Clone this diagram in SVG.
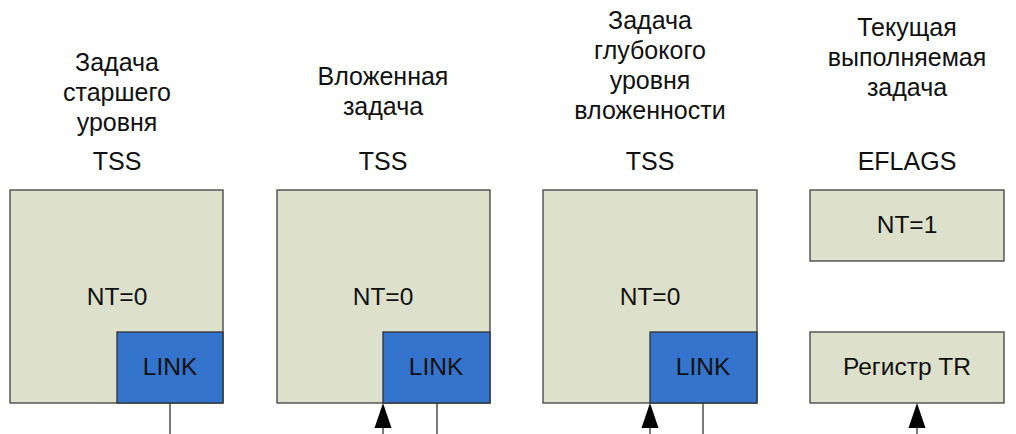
<svg xmlns="http://www.w3.org/2000/svg" width="1016" height="434" viewBox="0 0 1016 434">
<defs>
<style>
.box{fill:#dde0cb;stroke:#404040;stroke-width:1.3}
.link{fill:#3574cc;stroke:#303030;stroke-width:1.3}
.lbl{font-family:"Liberation Sans",Arial,sans-serif;font-size:25px;fill:#111;text-anchor:middle}
.in{font-family:"Liberation Sans",Arial,sans-serif;font-size:24.5px;fill:#111;text-anchor:middle}
.ln{stroke:#333;stroke-width:1.3;fill:none}
.ah{fill:#000}
</style>
</defs>
<rect width="1016" height="434" fill="#fff"/>
<g id="task1">
<text class="lbl" x="117" y="71">Задача</text>
<text class="lbl" x="117" y="101">старшего</text>
<text class="lbl" x="117" y="131">уровня</text>
<text class="lbl" x="117" y="170">TSS</text>
<rect class="box" x="10" y="190" width="213" height="213"/>
<text class="in" x="117" y="305">NT=0</text>
<rect class="link" x="117" y="332" width="106" height="71"/>
<text class="in" x="170" y="375">LINK</text>
</g>
<g id="task2">
<text class="lbl" x="383" y="85">Вложенная</text>
<text class="lbl" x="383" y="115">задача</text>
<text class="lbl" x="383" y="170">TSS</text>
<rect class="box" x="277" y="190" width="213" height="213"/>
<text class="in" x="383" y="305">NT=0</text>
<rect class="link" x="383" y="332" width="107" height="71"/>
<text class="in" x="436" y="375">LINK</text>
</g>
<g id="task3">
<text class="lbl" x="650" y="29">Задача</text>
<text class="lbl" x="650" y="59">глубокого</text>
<text class="lbl" x="650" y="89">уровня</text>
<text class="lbl" x="650" y="119">вложенности</text>
<text class="lbl" x="650" y="170">TSS</text>
<rect class="box" x="543" y="190" width="214" height="213"/>
<text class="in" x="650" y="305">NT=0</text>
<rect class="link" x="650" y="332" width="107" height="71"/>
<text class="in" x="703" y="375">LINK</text>
</g>
<g id="current">
<text class="lbl" x="907" y="36">Текущая</text>
<text class="lbl" x="907" y="66">выполняемая</text>
<text class="lbl" x="907" y="96">задача</text>
<text class="lbl" x="907" y="170">EFLAGS</text>
</g>
<g id="eflags">
<rect class="box" x="810" y="190" width="194" height="71"/>
<text class="in" x="907" y="233">NT=1</text>
</g>
<g id="tr">
<rect class="box" x="810" y="332" width="194" height="71"/>
<text class="in" x="907" y="375">Регистр TR</text>
</g>
<g id="connectors">
<line class="ln" x1="170" y1="403" x2="170" y2="434"/>
<line class="ln" x1="383" y1="434" x2="383" y2="420"/>
<path class="ah" d="M383,403 L374.5,428 L391.5,428 Z"/>
<line class="ln" x1="437" y1="403" x2="437" y2="434"/>
<line class="ln" x1="650" y1="434" x2="650" y2="420"/>
<path class="ah" d="M650,403 L641.5,428 L658.5,428 Z"/>
<line class="ln" x1="703" y1="403" x2="703" y2="434"/>
<line class="ln" x1="917" y1="434" x2="917" y2="420"/>
<path class="ah" d="M917,403 L908.5,428 L925.5,428 Z"/>
</g>
</svg>
